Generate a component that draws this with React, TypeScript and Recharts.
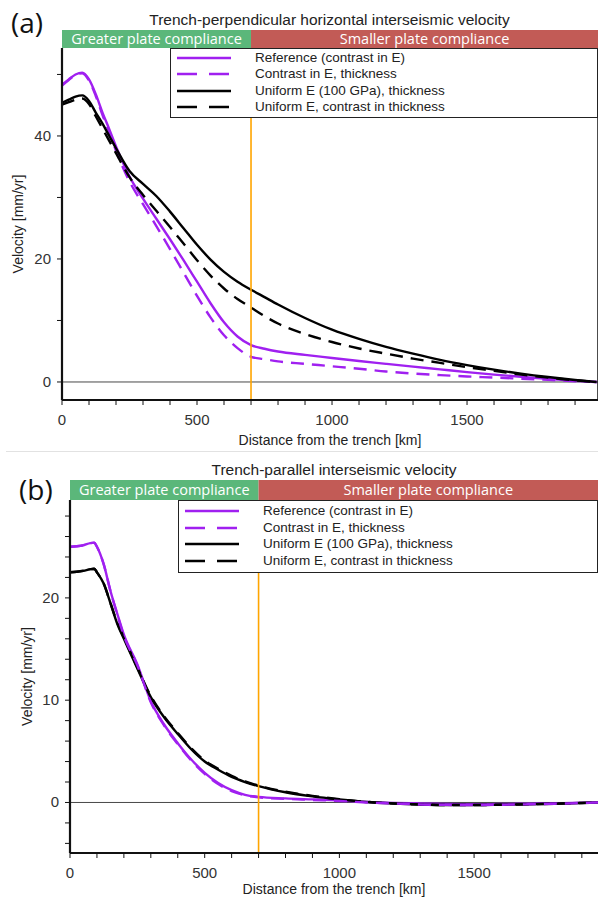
import React from 'react'
import { LineChart, Line, XAxis, YAxis, ReferenceLine, ReferenceArea } from 'recharts'

// distance from the trench [km]
const distA = [0, 25, 50, 75, 100, 125, 150, 175, 200, 250, 300, 350, 400, 450, 500, 550, 600, 650, 700, 750, 800, 900, 1000, 1100, 1200, 1300, 1400, 1500, 1600, 1700, 1800, 1900, 1980]
// (a) trench-perpendicular velocity [mm/yr]
const refA = [48.3, 49.2, 50.0, 50.3, 49.2, 46.8, 43.8, 41.1, 38.3, 33.4, 29.8, 26.5, 23.2, 19.8, 16.3, 12.8, 9.7, 7.4, 6.0, 5.4, 4.95, 4.4, 3.9, 3.4, 2.95, 2.5, 2.05, 1.6, 1.2, 0.85, 0.5, 0.2, 0]
const contrastA = [48.2, 49.1, 49.9, 50.2, 49.0, 46.5, 43.4, 40.6, 37.6, 32.6, 28.9, 25.3, 21.6, 17.8, 14.0, 10.5, 7.6, 5.5, 4.1, 3.7, 3.35, 2.95, 2.55, 2.15, 1.7, 1.38, 1.12, 0.9, 0.72, 0.53, 0.34, 0.12, 0]
const uniformA = [45.4, 45.9, 46.4, 46.6, 45.7, 43.8, 42.0, 40.0, 38.0, 34.3, 32.2, 30.2, 27.7, 25.0, 22.3, 19.9, 17.9, 16.3, 15.0, 13.8, 12.6, 10.4, 8.5, 7.0, 5.7, 4.6, 3.6, 2.75, 2.0, 1.35, 0.8, 0.33, 0]
const uniformContrastA = [45.1, 45.5, 45.9, 46.1, 45.2, 43.2, 41.2, 39.2, 37.2, 33.3, 30.4, 27.8, 25.2, 22.5, 19.8, 17.3, 15.2, 13.5, 12.1, 10.7, 9.5, 7.8, 6.5, 5.45, 4.6, 3.8, 3.1, 2.4, 1.8, 1.2, 0.7, 0.28, 0]

const distB = [0, 25, 50, 75, 90, 100, 125, 150, 175, 200, 250, 300, 350, 400, 450, 500, 550, 600, 650, 700, 800, 900, 1000, 1100, 1200, 1300, 1400, 1500, 1600, 1700, 1800, 1900, 1960]
// (b) trench-parallel velocity [mm/yr]
const refB = [25.0, 25.05, 25.15, 25.35, 25.4, 25.0, 23.3, 20.7, 18.5, 16.4, 13.5, 9.9, 7.6, 5.8, 4.2, 2.9, 1.9, 1.2, 0.75, 0.55, 0.4, 0.3, 0.2, 0.05, -0.05, -0.1, -0.15, -0.17, -0.15, -0.12, -0.08, -0.03, 0]
const contrastB = [25.0, 25.05, 25.15, 25.35, 25.4, 25.0, 23.3, 20.7, 18.4, 16.3, 13.4, 9.8, 7.5, 5.7, 4.1, 2.8, 1.8, 1.1, 0.7, 0.5, 0.35, 0.25, 0.15, 0.0, -0.1, -0.2, -0.24, -0.25, -0.22, -0.18, -0.12, -0.05, 0]
const uniformB = [22.5, 22.55, 22.65, 22.8, 22.85, 22.5, 21.4, 19.5, 17.5, 16.0, 13.1, 10.3, 8.3, 6.7, 5.2, 4.0, 3.2, 2.5, 2.0, 1.6, 1.0, 0.6, 0.3, 0.05, -0.1, -0.2, -0.25, -0.25, -0.22, -0.18, -0.12, -0.05, 0]
const uniformContrastB = [22.5, 22.55, 22.65, 22.8, 22.85, 22.5, 21.4, 19.5, 17.6, 16.1, 13.2, 10.4, 8.4, 6.8, 5.3, 4.1, 3.3, 2.6, 2.05, 1.65, 1.05, 0.65, 0.32, 0.06, -0.1, -0.2, -0.25, -0.25, -0.22, -0.18, -0.12, -0.05, 0]

const xTicksA = [0, 100, 200, 300, 400, 500, 600, 700, 800, 900, 1000, 1100, 1200, 1300, 1400, 1500, 1600, 1700, 1800, 1900]
const xTicksB = xTicksA
const xMajor = [0, 500, 1000, 1500]
const yTicksA = [0, 10, 20, 30, 40, 50]
const yMajorA = [0, 20, 40]
const yTicksB = [-4, -2, 0, 2, 4, 6, 8, 10, 12, 14, 16, 18, 20, 22, 24, 26, 28]
const yMajorB = [0, 10, 20]

const boundaryKm = 700
const zoneLabels = ['Greater plate compliance', 'Smaller plate compliance']

const PURPLE = '#a020f0'
const ORANGE = '#ffa500'
const GREEN = '#5bb77a'
const RED = '#c25b56'
const DASH = '13 8'
const SANS = '"Liberation Sans", Arial, sans-serif'
const MYRIAD = '"Open Sans", "Noto Sans", sans-serif'

const series = [
  { key: 'ref', name: 'Reference (contrast in E)', color: PURPLE, dash: undefined as string | undefined },
  { key: 'contrast', name: 'Contrast in E, thickness', color: PURPLE, dash: DASH },
  { key: 'uniform', name: 'Uniform E (100 GPa), thickness', color: '#000', dash: undefined },
  { key: 'uniformContrast', name: 'Uniform E, contrast in thickness', color: '#000', dash: DASH },
]

const rows = (dist: number[], cols: Record<string, number[]>) =>
  dist.map((d, i) => {
    const r: Record<string, number> = { d }
    Object.keys(cols).forEach((k) => (r[k] = cols[k][i]))
    return r
  })

const dataA = rows(distA, { ref: refA, contrast: contrastA, uniform: uniformA, uniformContrast: uniformContrastA })
const dataB = rows(distB, { ref: refB, contrast: contrastB, uniform: uniformB, uniformContrast: uniformContrastB })

const xTick = (major: number[]) => (p: any) => (
  <g>
    <line x1={p.x} x2={p.x} y1={p.y} y2={p.y + 5} stroke="#111" />
    {major.includes(p.payload.value) && (
      <text x={p.x} y={p.y + 25} textAnchor="middle" fontSize={15} fill="#333">{p.payload.value}</text>
    )}
  </g>
)

const yTick = (major: number[]) => (p: any) => (
  <g>
    <line x1={p.x} x2={p.x - 5} y1={p.y} y2={p.y} stroke="#111" />
    {major.includes(p.payload.value) && (
      <text x={p.x - 11} y={p.y + 5} textAnchor="end" fontSize={15} fill="#333">{p.payload.value}</text>
    )}
  </g>
)

const LegendBox = ({ left, top, width, height, rowTops }: { left: number; top: number; width: number; height: number; rowTops: number[] }) => (
  <div style={{ position: 'absolute', left, top, width, height, boxSizing: 'border-box', border: '1px solid #222', background: '#fff', fontFamily: SANS, fontSize: 13.5, color: '#222' }}>
    {series.map((s, i) => (
      <div key={s.key} style={{ position: 'absolute', left: 0, top: rowTops[i] - 8, height: 16, width: '100%' }}>
        <svg width={70} height={16} style={{ position: 'absolute', left: 0, top: 0 }}>
          <line x1={6} x2={60} y1={8} y2={8} stroke={s.color} strokeWidth={2.4} strokeDasharray={s.dash ? '20 12' : undefined} />
        </svg>
        <span style={{ position: 'absolute', left: 84, top: 0, lineHeight: '16px', whiteSpace: 'nowrap' }}>{s.name}</span>
      </div>
    ))}
  </div>
)

type PanelProps = {
  top: number
  height: number
  yAxisWidth: number
  marginBottom: number
  data: Record<string, number>[]
  xMax: number
  yDomain: [number, number]
  yTicks: number[]
  yMajor: number[]
  xTicks: number[]
  bandPx: number
  order: string[]
  frameRight: boolean
  yLabelX: number
  xLabelOffset: number
}

const PLOT_TOP = 48

const Panel = (p: PanelProps) => {
  const plotH = p.height - PLOT_TOP - p.marginBottom - 30
  const bandTop = p.yDomain[1] + (p.bandPx * (p.yDomain[1] - p.yDomain[0])) / plotH
  return (
    <div style={{ position: 'absolute', left: 0, top: p.top }}>
      <LineChart width={598} height={p.height} data={p.data} margin={{ top: PLOT_TOP, right: 0, bottom: p.marginBottom, left: 0 }} style={{ fontFamily: SANS }}>
        <XAxis
          type="number"
          dataKey="d"
          domain={[0, p.xMax]}
          allowDataOverflow
          ticks={p.xTicks}
          interval={0}
          tickSize={0}
          tickMargin={0}
          tickLine={false}
          tick={xTick(xMajor)}
          axisLine={{ stroke: '#111', strokeWidth: 2.2 }}
          height={30}
          label={{ value: 'Distance from the trench [km]', position: 'bottom', offset: p.xLabelOffset, fontSize: 14, fill: '#222' }}
        />
        <YAxis
          type="number"
          domain={p.yDomain}
          allowDataOverflow
          ticks={p.yTicks}
          interval={0}
          tickSize={0}
          tickMargin={0}
          tickLine={false}
          tick={yTick(p.yMajor)}
          axisLine={{ stroke: '#111', strokeWidth: 2.2 }}
          width={p.yAxisWidth}
          label={{ value: 'Velocity [mm/yr]', angle: -90, position: 'insideLeft', offset: p.yLabelX, fontSize: 14, fill: '#222', style: { textAnchor: 'middle' } }}
        />
        <ReferenceArea
          x1={0}
          x2={boundaryKm}
          y1={p.yDomain[1]}
          y2={bandTop}
          ifOverflow="visible"
          fill={GREEN}
          fillOpacity={1}
          stroke="none"
          label={{ value: zoneLabels[0], position: 'center', fill: '#fff', fontSize: 14.5, fontFamily: MYRIAD }}
        />
        <ReferenceArea
          x1={boundaryKm}
          x2={p.xMax}
          y1={p.yDomain[1]}
          y2={bandTop}
          ifOverflow="visible"
          fill={RED}
          fillOpacity={1}
          stroke="none"
          label={{ value: zoneLabels[1], position: 'center', fill: '#fff', fontSize: 14.5, fontFamily: MYRIAD }}
        />
        <ReferenceLine y={0} stroke="#333" strokeWidth={0.9} />
        {p.frameRight && <ReferenceLine x={p.xMax} stroke="#111" strokeWidth={1.5} />}
        {p.order.map((k) => {
          const s = series.find((x) => x.key === k)!
          return (
            <Line
              key={k}
              type="monotone"
              dataKey={k}
              name={s.name}
              stroke={s.color}
              strokeWidth={2.4}
              strokeDasharray={s.dash}
              dot={false}
              activeDot={false}
              isAnimationActive={false}
            />
          )
        })}
        <ReferenceLine x={boundaryKm} stroke={ORANGE} strokeWidth={1.6} />
      </LineChart>
    </div>
  )
}

export default function App() {
  return (
    <div style={{ position: 'absolute', left: 0, top: 0, width: 598, height: 900, overflow: 'hidden', background: '#fff' }}>
      <Panel
        top={0}
        height={450}
        yAxisWidth={62}
        marginBottom={20}
        data={dataA}
        xMax={1985}
        yDomain={[-2.93, 54.3]}
        yTicks={yTicksA}
        yMajor={yMajorA}
        xTicks={xTicksA}
        bandPx={18}
        order={['ref', 'contrast', 'uniform', 'uniformContrast']}
        frameRight
        yLabelX={18}
        xLabelOffset={5}
      />
      <Panel
        top={452}
        height={448}
        yAxisWidth={70}
        marginBottom={17}
        data={dataB}
        xMax={1960}
        yDomain={[-4.94, 29.57]}
        yTicks={yTicksB}
        yMajor={yMajorB}
        xTicks={xTicksB}
        bandPx={20}
        order={['ref', 'uniform', 'uniformContrast', 'contrast']}
        frameRight={false}
        yLabelX={27}
        xLabelOffset={1}
      />
      <LegendBox left={170} top={48} width={428} height={70} rowTops={[9, 25, 42, 58]} />
      <LegendBox left={178} top={500} width={420} height={73} rowTops={[10, 27, 43, 60]} />
      <div style={{ position: 'absolute', left: 62, width: 535, top: 11, textAlign: 'center', fontFamily: SANS, fontSize: 15.5, color: '#222' }}>
        Trench-perpendicular horizontal interseismic velocity
      </div>
      <div style={{ position: 'absolute', left: 70, width: 528, top: 461, textAlign: 'center', fontFamily: SANS, fontSize: 15.5, color: '#222' }}>
        Trench-parallel interseismic velocity
      </div>
      <div style={{ position: 'absolute', left: 11, top: 3, fontFamily: MYRIAD, fontSize: 28, color: '#111' }}>(a)</div>
      <div style={{ position: 'absolute', left: 19, top: 470, fontFamily: MYRIAD, fontSize: 28, color: '#111' }}>(b)</div>
      <div style={{ position: 'absolute', left: 6, right: 0, top: 451, height: 1, background: '#e2e2e2' }} />
    </div>
  )
}
